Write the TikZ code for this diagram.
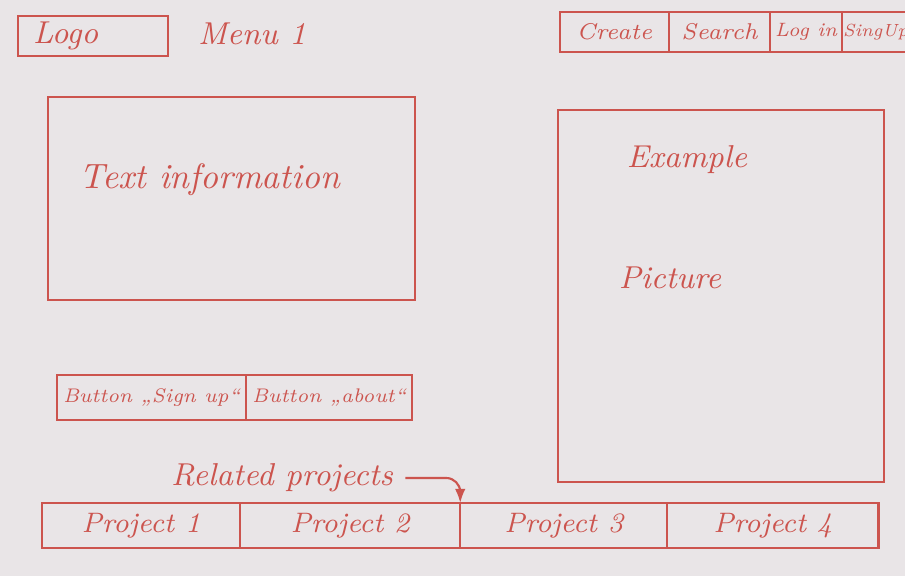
\documentclass[tikz,border=0pt]{standalone}
\usetikzlibrary{positioning,arrows.meta}
\definecolor{paper}{RGB}{233,229,231}
\definecolor{ink}{RGB}{204,84,78}
\begin{document}
\begin{tikzpicture}[x=0.01cm,y=-0.01cm]
% Styles for the sketch
\tikzset{box/.style={draw=ink, line width=0.6pt, rectangle, inner sep=0pt, outer sep=0pt, anchor=north west, text=ink, font=\itshape\footnotesize},
navbox/.style={box, minimum height=0.40cm, font=\itshape\fontsize{6.5}{8}\selectfont},
btnbox/.style={box, minimum height=0.45cm, font=\itshape\fontsize{5.6}{7}\selectfont},
hand/.style={text=ink, font=\itshape}}
% the paper
\fill[paper] (0,0) rectangle (905,576);
\useasboundingbox (0,0) rectangle (905,576);

% header
\node[box, minimum width=1.50cm, minimum height=0.40cm, font=\itshape\small] (logo) at (18,16) {\makebox[1.2cm][l]{Logo}};
\node[hand, font=\itshape\small] (menu) at (252,34) {Menu 1};

	%nav bar
\node[navbox, minimum width=1.09cm] (create) at (560,12) {Create};
\node[navbox, minimum width=1.01cm, right=0pt of create] (search) {Search};
\node[navbox, minimum width=0.72cm, font=\itshape\fontsize{5.5}{7}\selectfont, right=0pt of search] (login) {Log in};
\node[navbox, minimum width=0.73cm, font=\itshape\tiny, right=0pt of login] (signup) {\makebox[0.71cm][l]{SingUp}};

% text block
\node[box, minimum width=3.67cm, minimum height=2.03cm] (info) at (48,97) {};
\node[hand] (infotext) at (210,180) {Text information};

% picture block
\node[box, minimum width=3.26cm, minimum height=3.72cm] (pic) at (558,110) {};
\node[hand, font=\itshape\small] (example) at (687,160) {Example};
\node[hand, font=\itshape\small] (picture) at (670,278) {Picture};

% buttons
\node[btnbox, minimum width=1.89cm] (signbtn) at (57,375) {Button „Sign up“};
\node[btnbox, minimum width=1.66cm, right=0pt of signbtn] (aboutbtn) {Button „about“};

% related projects
\node[box, minimum width=1.98cm, minimum height=0.45cm] (p1) at (42,503) {Project 1};
\node[box, minimum width=2.20cm, minimum height=0.45cm, right=0pt of p1] (p2) {Project 2};
\node[box, minimum width=2.07cm, minimum height=0.45cm, right=0pt of p2] (p3) {Project 3};
\node[box, minimum width=2.11cm, minimum height=0.45cm, right=0pt of p3] (p4) {Project 4};

\node[hand, font=\itshape\small] (rel) at (282,478) {Related projects};
\draw[ink, line width=0.6pt, -{Latex[length=4pt]}, rounded corners=4pt] (rel.east) -| (p3.north west);
\end{tikzpicture}
\end{document}
